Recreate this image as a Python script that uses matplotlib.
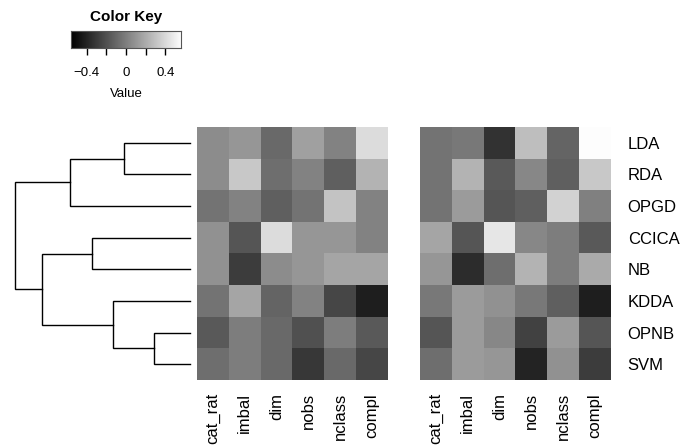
import numpy as np
import matplotlib.pyplot as plt

plt.rcParams['font.family'] = ['Liberation Sans', 'DejaVu Sans']

methods = ['LDA', 'RDA', 'OPGD', 'CCICA', 'NB', 'KDDA', 'OPNB', 'SVM']
features = ['cat_rat', 'imbal', 'dim', 'nobs', 'nclass', 'compl']

left_vals = np.array([
    [0.055, 0.099, -0.099, 0.143, 0.011, 0.406],
    [0.055, 0.318, -0.077, 0.011, -0.143, 0.231],
    [-0.055, 0.011, -0.143, -0.055, 0.296, 0.011],
    [0.077, -0.187, 0.406, 0.099, 0.099, 0.011],
    [0.077, -0.296, 0.055, 0.099, 0.165, 0.165],
    [-0.055, 0.165, -0.121, 0.011, -0.253, -0.428],
    [-0.165, -0.011, -0.099, -0.209, -0.011, -0.165],
    [-0.077, -0.011, -0.099, -0.318, -0.099, -0.253],
])

right_vals = np.array([
    [-0.055, -0.033, -0.340, 0.274, -0.121, 0.551],
    [-0.055, 0.231, -0.165, 0.033, -0.143, 0.318],
    [-0.055, 0.121, -0.187, -0.143, 0.362, 0.002],
    [0.165, -0.187, 0.450, 0.033, -0.011, -0.165],
    [0.099, -0.362, -0.077, 0.231, -0.011, 0.187],
    [-0.033, 0.121, 0.077, -0.033, -0.143, -0.428],
    [-0.187, 0.121, 0.033, -0.275, 0.121, -0.187],
    [-0.077, 0.121, 0.099, -0.406, 0.077, -0.296],
])

# dendrogram merges: (left node, right node, height); leaves are 0..7, new nodes 8..
merges = [
    (6, 7, 36),
    (0, 1, 66),
    (5, 8, 77),
    (3, 4, 98),
    (9, 2, 120),
    (11, 10, 148),
    (12, 13, 175),
]

vmin, vmax = -0.56, 0.56
W, H = 688, 447
fig = plt.figure(figsize=(W / 100, H / 100), dpi=100)


def px_axes(x0, y0, x1, y1):
    return fig.add_axes([x0 / W, 1 - y1 / H, (x1 - x0) / W, (y1 - y0) / H])


top, bottom = 127, 380
for vals, (x0, x1), show_rows in [(left_vals, (197, 388), False),
                                  (right_vals, (420, 611), True)]:
    ax = px_axes(x0, top, x1, bottom)
    ax.imshow(vals, cmap='gray', vmin=vmin, vmax=vmax, aspect='auto',
              interpolation='nearest')
    ax.set_xticks(range(len(features)))
    ax.set_xticklabels(features, rotation=90, fontsize=12)
    ax.tick_params(axis='x', length=0, pad=9.5)
    if show_rows:
        ax.yaxis.tick_right()
        ax.set_yticks(range(len(methods)))
        ax.set_yticklabels(methods, fontsize=12)
        ax.tick_params(axis='y', length=0, pad=12)
    else:
        ax.set_yticks([])
    for s in ax.spines.values():
        s.set_visible(False)

# dendrogram
dax = px_axes(15, top, 190, bottom)
pos = {i: i for i in range(len(methods))}
hgt = {i: 0 for i in range(len(methods))}
for k, (a, b, h) in enumerate(merges):
    node = len(methods) + k
    ya, yb = pos[a], pos[b]
    dax.plot([hgt[a], h, h, hgt[b]], [ya, ya, yb, yb], color='black', lw=1,
             solid_joinstyle='miter', clip_on=False)
    pos[node] = (ya + yb) / 2
    hgt[node] = h
dax.set_xlim(175, 0)
dax.set_ylim(len(methods) - 0.5, -0.5)
dax.axis('off')

# color key
kax = px_axes(71, 31, 181, 48)
grad = np.linspace(vmin, vmax, 256).reshape(1, -1)
kax.imshow(grad, cmap='gray', vmin=vmin, vmax=vmax, aspect='auto',
           extent=[vmin, vmax, 0, 1])
kax.set_yticks([])
kax.set_xticks([-0.4, -0.2, 0, 0.2, 0.4])
kax.set_xticklabels(['\u22120.4', '', '0', '', '0.4'], fontsize=9.5)
kax.tick_params(axis='x', length=5, width=1, pad=9)
for s in kax.spines.values():
    s.set_linewidth(0.8)
    s.set_color('#555555')
kax.set_title('Color Key', fontsize=11, fontweight='bold', pad=7)
kax.set_xlabel('Value', fontsize=9.5, labelpad=6)

fig.savefig('out.png', dpi=100)
